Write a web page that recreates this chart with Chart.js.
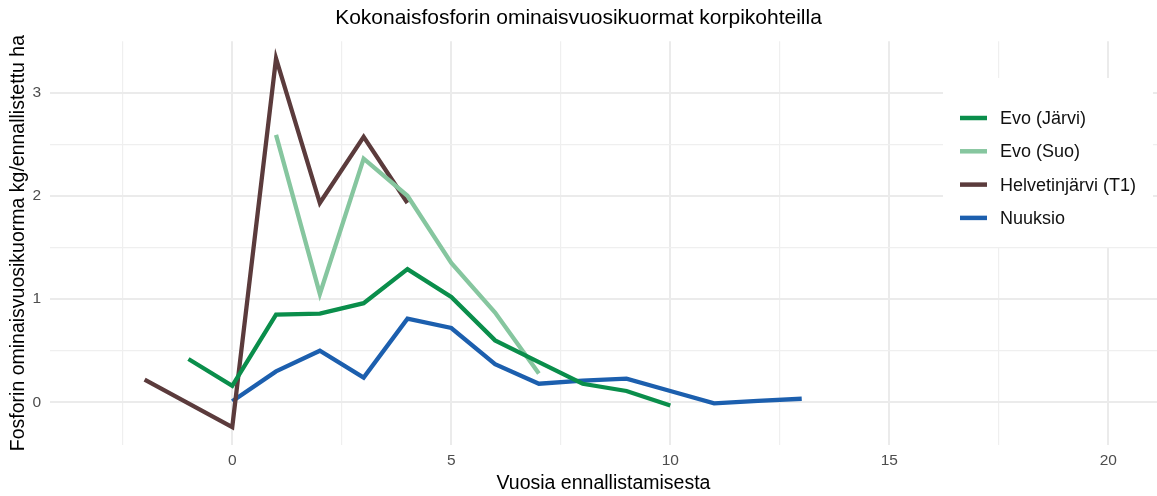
<!DOCTYPE html>
<html lang="fi">
<head>
<meta charset="utf-8">
<title>Kokonaisfosforin ominaisvuosikuormat korpikohteilla</title>
<script src="https://cdn.jsdelivr.net/npm/chart.js@4.4.1/dist/chart.umd.min.js"></script>
<style>
  html, body { margin: 0; padding: 0; background: #fff; }
  #wrap { width: 1157px; height: 496px; }
</style>
</head>
<body>
<div id="wrap"><canvas id="fosforiChart"></canvas></div>
<script>
// sarjojen nimet ja värit
const sarjat = ['Evo (Järvi)', 'Evo (Suo)', 'Helvetinjärvi (T1)', 'Nuuksio'];
const varit = ['#0a8e4b', '#86c69f', '#5b3b3c', '#1c5fae'];

// vuodet ennallistamisesta ja kuormat (kg/ha)
const evoJarviX = [-1, 0, 1, 2, 3, 4, 5, 6, 7, 8, 9, 10];
const evoJarviY = [0.42, 0.16, 0.85, 0.86, 0.96, 1.29, 1.02, 0.60, 0.39, 0.18, 0.11, -0.03];

const evoSuoX = [1, 2, 3, 4, 5, 6, 7];
const evoSuoY = [2.59, 1.05, 2.36, 2.00, 1.35, 0.87, 0.28];

const helvetinX = [-2, 0, 1, 2, 3, 4];
const helvetinY = [0.22, -0.24, 3.33, 1.93, 2.57, 1.93];

const nuuksioX = [0, 1, 2, 3, 4, 5, 6, 7, 8, 9, 10, 11, 12, 13];
const nuuksioY = [0.01, 0.30, 0.50, 0.24, 0.81, 0.72, 0.37, 0.18, 0.21, 0.23, 0.11, -0.01, 0.015, 0.035];

// akselien jaot
const xTicks = [-2.5, 0, 2.5, 5, 7.5, 10, 12.5, 15, 17.5, 20];
const yTicks = [0, 0.5, 1, 1.5, 2, 2.5, 3];

const fontti = "'Liberation Sans', Arial, sans-serif";

function pisteet(xs, ys) {
  return xs.map((x, i) => ({ x, y: ys[i] }));
}

const datasets = [
  [evoJarviX, evoJarviY],
  [evoSuoX, evoSuoY],
  [helvetinX, helvetinY],
  [nuuksioX, nuuksioY]
].map(([xs, ys], i) => ({
  label: sarjat[i],
  data: pisteet(xs, ys),
  borderColor: varit[i],
  backgroundColor: varit[i],
  borderWidth: 4.3,
  pointRadius: 0,
  tension: 0,
  borderJoinStyle: 'miter',
  borderCapStyle: 'butt'
}));

// selite piirretään kuva-alueen sisään valkoisella pohjalla
const selitePlugin = {
  id: 'selite',
  afterDatasetsDraw(chart) {
    const ctx = chart.ctx;
    ctx.save();
    ctx.fillStyle = '#ffffff';
    ctx.fillRect(943, 78, 210, 169);
    ctx.font = '18px ' + fontti;
    ctx.textBaseline = 'middle';
    ctx.textAlign = 'left';
    chart.data.datasets.forEach((ds, i) => {
      const y = 118 + i * 33.3;
      ctx.strokeStyle = ds.borderColor;
      ctx.lineWidth = 4.5;
      ctx.beginPath();
      ctx.moveTo(960, y);
      ctx.lineTo(987, y);
      ctx.stroke();
      ctx.fillStyle = '#111111';
      ctx.fillText(ds.label, 1000, y + 1);
    });
    ctx.restore();
  }
};

const onPaa = v => Math.abs(v % 1) < 1e-9;

new Chart(document.getElementById('fosforiChart'), {
  type: 'line',
  data: { datasets },
  plugins: [selitePlugin],
  options: {
    responsive: true,
    maintainAspectRatio: false,
    animation: false,
    layout: { padding: { left: 0, right: 0, top: 0, bottom: 0 } },
    plugins: {
      legend: { display: false },
      tooltip: { enabled: false },
      title: {
        display: true,
        text: 'Kokonaisfosforin ominaisvuosikuormat korpikohteilla',
        color: '#000',
        font: { family: fontti, size: 21, weight: 'normal' },
        padding: { top: 6, bottom: 10 }
      }
    },
    scales: {
      x: {
        type: 'linear',
        min: -4.16,
        max: 21.11,
        afterBuildTicks: axis => { axis.ticks = xTicks.map(v => ({ value: v })); },
        afterFit: axis => { axis.height = 51; },
        border: { display: false },
        grid: {
          drawTicks: false,
          color: ctx => (ctx.tick && ctx.tick.value % 5 === 0) ? '#ebebeb' : '#efefef',
          lineWidth: ctx => (ctx.tick && ctx.tick.value % 5 === 0) ? 2 : 1.2
        },
        ticks: {
          padding: 6,
          color: '#4d4d4d',
          font: { family: fontti, size: 15.5 },
          maxRotation: 0,
          autoSkip: false,
          callback: v => (v % 5 === 0 ? String(v) : '')
        },
        title: {
          display: true,
          text: 'Vuosia ennallistamisesta',
          color: '#000',
          font: { family: fontti, size: 19.5 },
          padding: { top: 0, bottom: 1 }
        }
      },
      y: {
        type: 'linear',
        min: -0.413,
        max: 3.497,
        afterBuildTicks: axis => { axis.ticks = yTicks.map(v => ({ value: v })); },
        afterFit: axis => { axis.width = 50; },
        border: { display: false },
        grid: {
          drawTicks: false,
          color: ctx => (ctx.tick && onPaa(ctx.tick.value)) ? '#ebebeb' : '#efefef',
          lineWidth: ctx => (ctx.tick && onPaa(ctx.tick.value)) ? 2 : 1.2
        },
        ticks: {
          padding: 9,
          color: '#4d4d4d',
          font: { family: fontti, size: 15.5 },
          autoSkip: false,
          callback: v => (onPaa(v) ? String(v) : '')
        },
        title: {
          display: true,
          text: 'Fosforin ominaisvuosikuorma kg/ennallistettu ha',
          color: '#000',
          font: { family: fontti, size: 19.5 },
          padding: { top: 7, bottom: 0 }
        }
      }
    }
  }
});
</script>
</body>
</html>
